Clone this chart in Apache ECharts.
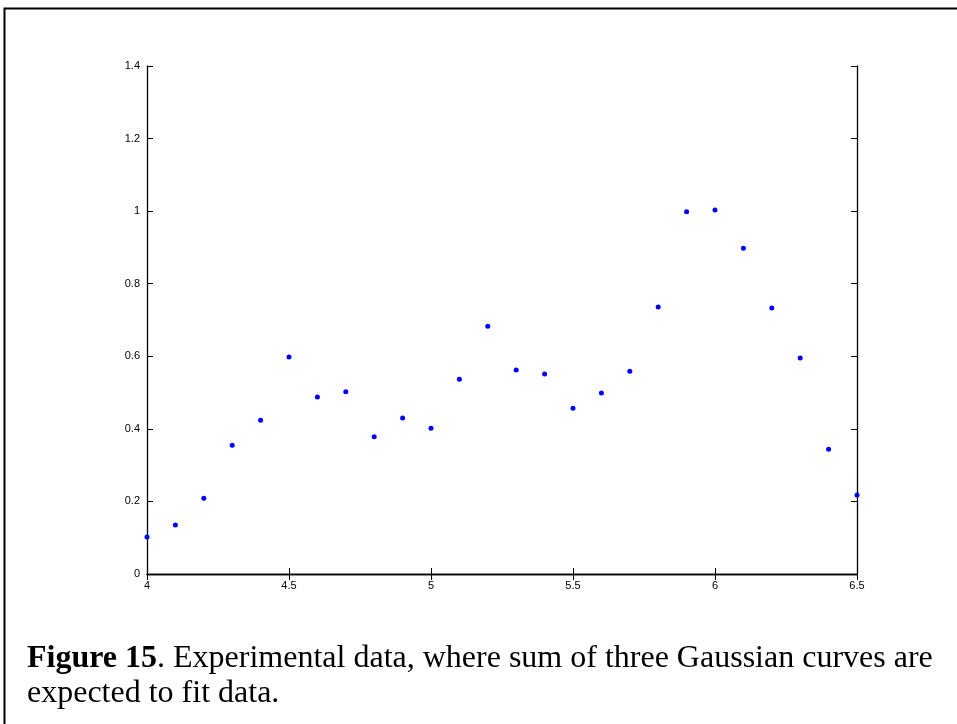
<!DOCTYPE html>
<html>
<head>
<meta charset="utf-8">
<script src="https://cdn.jsdelivr.net/npm/echarts@6/dist/echarts.min.js"></script>
<style>
html, body { margin: 0; padding: 0; background: #fff; }
#chart { width: 957px; height: 724px; }
</style>
</head>
<body>
<div id="chart"></div>
<script>
// x positions of the measured points
var xValues = [4.0, 4.1, 4.2, 4.3, 4.4, 4.5, 4.6, 4.7, 4.8, 4.9, 5.0, 5.1, 5.2,
	5.3, 5.4, 5.5, 5.6, 5.7, 5.8, 5.9, 6.0, 6.1, 6.2, 6.3, 6.4, 6.5];
var yValues = [0.102, 0.135, 0.209, 0.355, 0.424, 0.598, 0.488, 0.502, 0.378, 0.430,
	0.402, 0.537, 0.683, 0.562, 0.551, 0.457, 0.499, 0.559, 0.736, 0.998,
	1.003, 0.898, 0.733, 0.595, 0.344, 0.218];
var xTicks = ['4', '4.5', '5', '5.5', '6', '6.5'];
var yTicks = ['0', '0.2', '0.4', '0.6', '0.8', '1', '1.2', '1.4'];

var points = [];
for (var i = 0; i < xValues.length; i++) {
	points.push([xValues[i], yValues[i]]);
}

var myChart = echarts.init(document.getElementById('chart'), null, { renderer: 'canvas' });

var axisFont = { fontFamily: 'Liberation Sans', fontSize: 11, color: '#000' };

var option = {
	backgroundColor: '#fff',
	animation: false,
	grid: { left: 147, right: 100, top: 66, bottom: 150 },
	xAxis: [{
		type: 'value', min: 4, max: 6.5, interval: 0.5,
		axisLine: { lineStyle: { color: '#000', width: 1.3 } },
		axisTick: { inside: true, length: 6, lineStyle: { color: '#000' } },
		splitLine: { show: false }
	}, {
		type: 'value', position: 'top', min: 4, max: 6.5, interval: 0.5,
		axisLine: { show: true, lineStyle: { color: '#000', width: 1.3 } },
		axisTick: { inside: true, length: 6, lineStyle: { color: '#000' } },
		axisLabel: { show: false },
		splitLine: { show: false }
	}],
	yAxis: [{
		type: 'value', min: 0, max: 1.4, interval: 0.2,
		axisLine: { show: true, lineStyle: { color: '#000', width: 1.3 } },
		axisTick: { show: true, inside: true, length: 6, lineStyle: { color: '#000' } },
		splitLine: { show: false }
	}, {
		type: 'value', position: 'right', min: 0, max: 1.4, interval: 0.2,
		axisLine: { show: true, lineStyle: { color: '#000', width: 1.3 } },
		axisTick: { show: true, inside: true, length: 6, lineStyle: { color: '#000' } },
		axisLabel: { show: false },
		splitLine: { show: false }
	}],
	series: [{
		type: 'scatter',
		data: points,
		symbol: 'circle',
		symbolSize: 5,
		clip: false,
		itemStyle: { color: '#0000ff', opacity: 1 }
	}],
	graphic: [{
		type: 'rect',
		shape: { x: 4.5, y: 8.5, width: 1000, height: 800 },
		style: { fill: 'none', stroke: '#000', lineWidth: 2 },
		silent: true
	}, {
		type: 'text',
		left: 27, top: 643,
		style: {
			text: '{b|Figure 15}{n|. Experimental data, where sum of three Gaussian curves are}',
			rich: {
				b: { fontFamily: 'Liberation Serif', fontSize: 32, fontWeight: 'bold', fill: '#000' },
				n: { fontFamily: 'Liberation Serif', fontSize: 32, fill: '#000' }
			}
		}
	}, {
		type: 'text',
		left: 27, top: 678,
		style: { text: 'expected to fit data.', font: '32px "Liberation Serif"', fill: '#000' }
	}]
};

// tick labels come from the named lists
option.xAxis[0].axisLabel = {
	margin: 6, fontFamily: axisFont.fontFamily, fontSize: axisFont.fontSize, color: axisFont.color,
	formatter: function(v) { return xTicks[Math.round((v - 4) / 0.5)]; }
};
option.yAxis[0].axisLabel = {
	margin: 7, fontFamily: axisFont.fontFamily, fontSize: axisFont.fontSize, color: axisFont.color,
	formatter: function(v) { return yTicks[Math.round(v / 0.2)]; }
};

myChart.setOption(option);
</script>
</body>
</html>
